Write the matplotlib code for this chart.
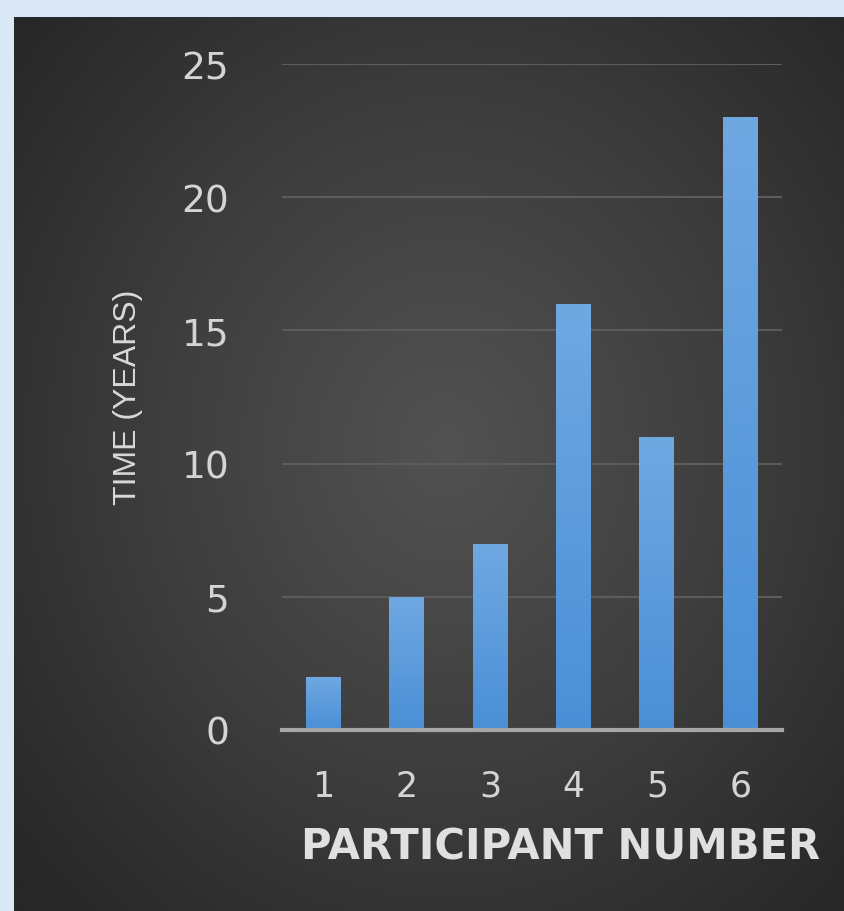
import matplotlib
matplotlib.use('Agg')
import matplotlib.pyplot as plt
import numpy as np
from matplotlib.colors import LinearSegmentedColormap

# data
participants = ['1', '2', '3', '4', '5', '6']
years = [2, 5, 7, 16, 11, 23]
y_ticks = [0, 5, 10, 15, 20, 25]

W, H = 845, 912
fig = plt.figure(figsize=(W / 100, H / 100), dpi=100)
fig.patch.set_facecolor('#dae7f4')

# dark panel with a soft radial glow
bg = fig.add_axes([14 / W, 0, 1 - 14 / W, 1 - 18 / H])
bg.set_axis_off()
yy, xx = np.mgrid[0:1:400j, 0:1:400j]
r = np.sqrt(((xx - 0.52) / 0.95) ** 2 + ((yy - 0.52) / 1.0) ** 2)
glow = np.clip(r / 0.72, 0, 1)
bg_cmap = LinearSegmentedColormap.from_list('bg', ['#525252', '#3e3e3e', '#272727'])
bg.imshow(glow, cmap=bg_cmap, extent=[0, 1, 0, 1], aspect='auto', origin='lower')

ax = fig.add_axes([282 / W, 1 - 731 / H, 500 / W, (731 - 65) / H])
ax.patch.set_alpha(0)
x = np.arange(len(participants))
bars = ax.bar(x, years, width=0.42, color='#5b9bd5', zorder=3)

# vertical gradient on each bar
bar_cmap = LinearSegmentedColormap.from_list('bar', ['#4a8fd6', '#70a8e2'])
grad = np.linspace(0, 1, 256).reshape(-1, 1)
for b in bars:
    x0, y0 = b.get_x(), b.get_y()
    im = ax.imshow(grad, cmap=bar_cmap, origin='lower', aspect='auto', zorder=4,
                   extent=[x0, x0 + b.get_width(), y0, y0 + b.get_height()])
    im.set_clip_path(b)

ax.set_xlim(-0.5, 5.5)
ax.set_ylim(0, 25)
ax.set_yticks(y_ticks)
ax.set_xticks(x)
ax.set_xticklabels(participants)
ax.yaxis.grid(True, color='#5c5c5c', linewidth=1.5, zorder=1)
ax.set_axisbelow(True)
for s in ['top', 'right', 'left']:
    ax.spines[s].set_visible(False)
ax.spines['bottom'].set_color('#a6a6a6')
ax.spines['bottom'].set_linewidth(3)
ax.spines['bottom'].set_zorder(5)
ax.tick_params(axis='y', length=0, pad=38, labelsize=27, labelcolor='#d4d4d4')
ax.tick_params(axis='x', length=0, pad=28, labelsize=25, labelcolor='#d4d4d4')

ax.set_ylabel('TIME (YEARS)', fontsize=23, color='#d9d9d9', family='Liberation Sans')
ax.yaxis.set_label_coords(-(282 - 143) / 500, (731 - 397) / 666)
ax.set_xlabel('PARTICIPANT NUMBER', fontsize=30, fontweight='bold', color='#e0e0e0')
ax.xaxis.set_label_coords(279 / 500, -(827 - 731) / 666)

plt.savefig('out.png', dpi=100, facecolor=fig.get_facecolor())
